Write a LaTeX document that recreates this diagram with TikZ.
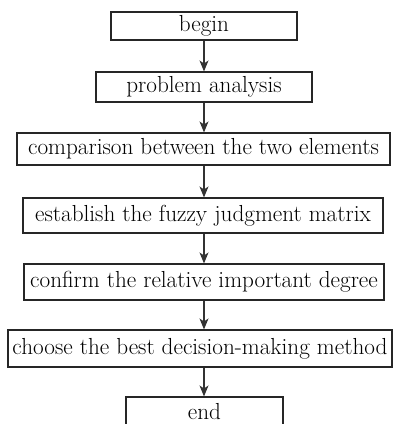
\documentclass[tikz,border=0pt]{standalone}
\usetikzlibrary{arrows.meta}
\begin{document}
\begin{tikzpicture}[x=1pt,y=-1pt,
  box/.style={draw=black!85, line width=1.1pt, inner sep=0pt, fill=white,
    font=\fontsize{23.2}{26}\selectfont},
  arr/.style={-{Stealth[length=11pt,width=9pt,inset=3pt]}, line width=1.1pt, draw=black!80}]
\useasboundingbox (0,0) rectangle (393,424);
\node[box, minimum width=186pt, minimum height=28pt] (b) at (204,26) {begin};
\node[box, minimum width=216pt, minimum height=30pt] (p) at (204,87) {problem analysis};
\node[box, minimum width=373pt, minimum height=32pt] (c) at (203.5,149) {comparison between the two elements};
\node[box, minimum width=360pt, minimum height=35pt] (e) at (203,215.5) {establish the fuzzy judgment matrix};
\node[box, minimum width=360pt, minimum height=36pt] (f) at (204,282) {confirm the relative important degree};
\node[box, minimum width=384pt, minimum height=37pt] (ch) at (200,348.5) {choose the best decision-making method};
\node[box, minimum width=157pt, minimum height=30pt] (en) at (204.5,412) {end};
\draw[arr] (b.south -| 204,0) -- (p.north -| 204,0);
\draw[arr] (p.south -| 204,0) -- (c.north -| 204,0);
\draw[arr] (c.south -| 204,0) -- (e.north -| 204,0);
\draw[arr] (e.south -| 204,0) -- (f.north -| 204,0);
\draw[arr] (f.south -| 204,0) -- (ch.north -| 204,0);
\draw[arr] (ch.south -| 204,0) -- (en.north -| 204,0);
\end{tikzpicture}
\end{document}
